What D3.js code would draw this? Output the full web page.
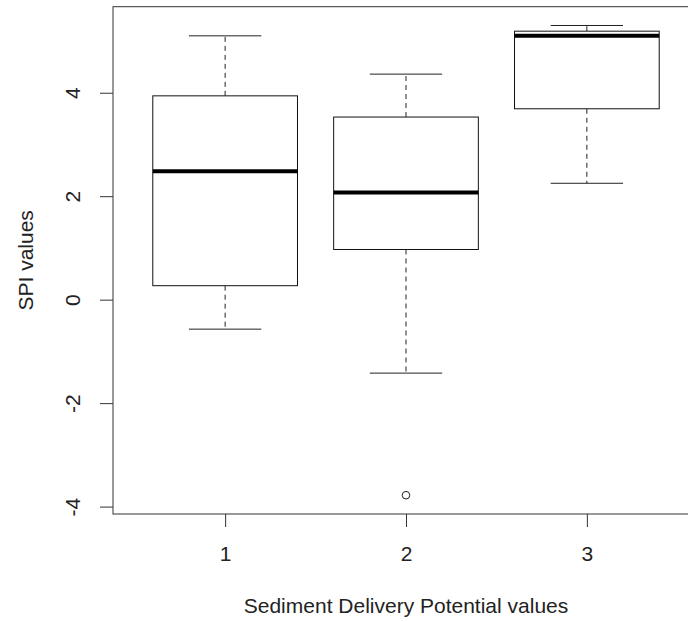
<!DOCTYPE html>
<html lang="en">
<head>
<meta charset="utf-8">
<title>SPI values by Sediment Delivery Potential</title>
<script src="https://d3js.org/d3.v7.min.js"></script>
<style>
  body { margin: 0; background: #fff; overflow: hidden; }
  svg { display: block; font-family: "Liberation Sans", Arial, sans-serif; }
  .axis text { font-size: 21px; fill: #222; }
  .axis line { stroke: #333; }
</style>
</head>
<body>
<svg width="688" height="622"></svg>
<script>
// group labels and box statistics
var groups = ["1", "2", "3"];
var whiskerLow = [-0.57, -1.42, 2.25];
var q1 = [0.27, 0.97, 3.69];
var median = [2.48, 2.07, 5.10];
var q3 = [3.94, 3.53, 5.19];
var whiskerHigh = [5.10, 4.36, 5.30];
var outlierGroup = ["2"];
var outlierValue = [-3.78];
var yTicks = [-4, -2, 0, 2, 4];

var svg = d3.select("svg");

// plot region (right edge falls outside the picture, as in the original)
var pLeft = 113, pRight = 699, pTop = 6.7, pBottom = 514;

// R style: data range padded 4%
var yMin = -3.78, yMax = 5.30, pad = (yMax - yMin) * 0.04;
var y = d3.scaleLinear().domain([yMin - pad, yMax + pad]).range([pBottom, pTop]);
var x = d3.scaleLinear().domain([0.38, 3.62]).range([pLeft, pRight]);
var unit = x(2) - x(1);
var boxW = unit * 0.8;
var capW = boxW * 0.5;

var data = groups.map(function(g, i) {
  return {g: g, pos: i + 1, lo: whiskerLow[i], q1: q1[i], med: median[i], q3: q3[i], hi: whiskerHigh[i]};
});

var boxes = svg.append("g").selectAll("g").data(data).enter().append("g");

// whiskers (dashed)
boxes.append("line")
  .attr("x1", function(d){ return x(d.pos); })
  .attr("x2", function(d){ return x(d.pos); })
  .attr("y1", function(d){ return y(d.q3); })
  .attr("y2", function(d){ return y(d.hi); })
  .attr("stroke", "#222").attr("stroke-dasharray", "5,4");
boxes.append("line")
  .attr("x1", function(d){ return x(d.pos); })
  .attr("x2", function(d){ return x(d.pos); })
  .attr("y1", function(d){ return y(d.q1); })
  .attr("y2", function(d){ return y(d.lo); })
  .attr("stroke", "#222").attr("stroke-dasharray", "5,4");

// caps
boxes.selectAll(".cap").data(function(d){ return [{pos: d.pos, v: d.lo}, {pos: d.pos, v: d.hi}]; })
  .enter().append("line")
  .attr("class", "cap")
  .attr("x1", function(d){ return x(d.pos) - capW / 2; })
  .attr("x2", function(d){ return x(d.pos) + capW / 2; })
  .attr("y1", function(d){ return y(d.v); })
  .attr("y2", function(d){ return y(d.v); })
  .attr("stroke", "#222");

// box
boxes.append("rect")
  .attr("x", function(d){ return x(d.pos) - boxW / 2; })
  .attr("width", boxW)
  .attr("y", function(d){ return y(d.q3); })
  .attr("height", function(d){ return y(d.q1) - y(d.q3); })
  .attr("fill", "#fff").attr("stroke", "#111");

// median
boxes.append("line")
  .attr("x1", function(d){ return x(d.pos) - boxW / 2; })
  .attr("x2", function(d){ return x(d.pos) + boxW / 2; })
  .attr("y1", function(d){ return y(d.med); })
  .attr("y2", function(d){ return y(d.med); })
  .attr("stroke", "#000").attr("stroke-width", 4);

// outliers
svg.append("g").selectAll("circle").data(outlierValue).enter().append("circle")
  .attr("cx", function(d, i){ return x(groups.indexOf(outlierGroup[i]) + 1); })
  .attr("cy", function(d){ return y(d); })
  .attr("r", 3.8)
  .attr("fill", "none").attr("stroke", "#222");

// frame
svg.append("rect")
  .attr("x", pLeft).attr("y", pTop)
  .attr("width", pRight - pLeft).attr("height", pBottom - pTop)
  .attr("fill", "none").attr("stroke", "#333");

// y axis (plain hyphen for negatives, like R)
var yAxis = svg.append("g").attr("class", "axis")
  .attr("transform", "translate(" + pLeft + ",0)")
  .call(d3.axisLeft(y).tickValues(yTicks).tickSize(13).tickFormat(function(d){ return String(d); }));
yAxis.select(".domain").remove();
yAxis.selectAll("text")
  .attr("x", 0).attr("dy", "0.35em")
  .attr("text-anchor", "middle")
  .attr("transform", "translate(-40,0) rotate(-90)");

// x axis
var xAxis = svg.append("g").attr("class", "axis")
  .attr("transform", "translate(0," + pBottom + ")")
  .call(d3.axisBottom(x).tickValues([1, 2, 3]).tickSize(13).tickPadding(19)
    .tickFormat(function(d){ return groups[d - 1]; }));
xAxis.select(".domain").remove();

// titles
svg.append("text")
  .attr("x", (pLeft + pRight) / 2).attr("y", 613)
  .attr("text-anchor", "middle")
  .style("font-size", "21px").style("fill", "#222")
  .text("Sediment Delivery Potential values");

svg.append("text")
  .attr("transform", "translate(33," + ((pTop + pBottom) / 2) + ") rotate(-90)")
  .attr("text-anchor", "middle")
  .style("font-size", "21px").style("fill", "#222")
  .text("SPI values");
</script>
</body>
</html>
